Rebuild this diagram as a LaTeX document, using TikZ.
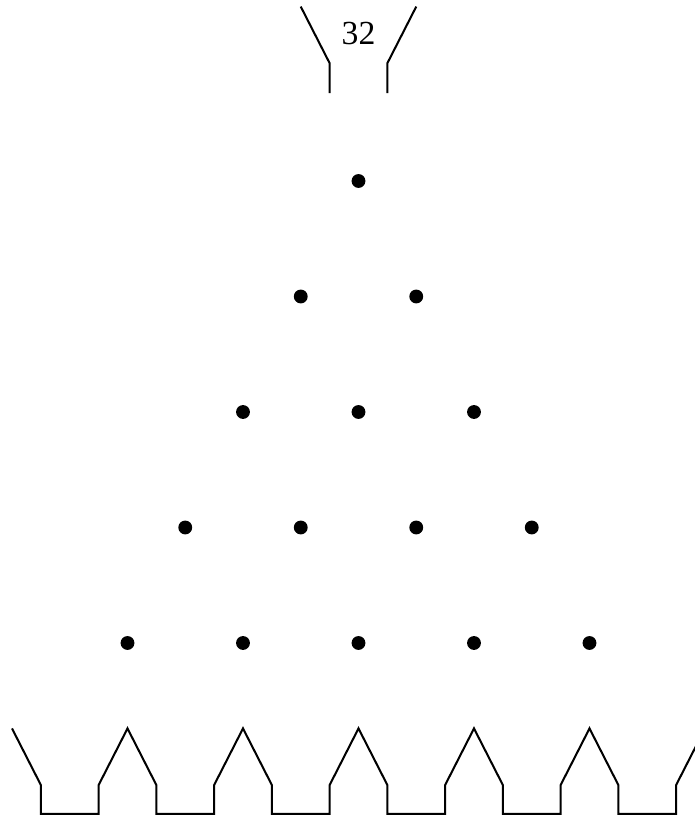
\documentclass[tikz,border=0pt]{standalone}
\usepackage{fontspec}
\setmainfont{Liberation Serif}
\usetikzlibrary{calc}
\definecolor{boardInk}{RGB}{0,0,0}

\begin{document}
\begin{tikzpicture}[x=1cm,y=1cm,line width=0.5pt,boardInk]
    \useasboundingbox (-3.104,-5.498) rectangle (2.905,1.567);
    % funnel
    \draw (-0.5,1.51) -- (-0.25,1.02) -- (-0.25,0.76);
    \draw (0.5,1.51) -- (0.25,1.02) -- (0.25,0.76);
    \node[font=\fontsize{8.3}{10}\selectfont] (count) at (0,1.28) {32};
    % pegs
    \foreach \r in {0,...,4}{
      \foreach \k in {0,...,\r}{
        \fill ({-\r/2+\k},-\r) circle (0.06);
      }
    }
    % bins
    \draw (-3,-4.74) -- (-2.75,-5.23) -- (-2.75,-5.48) -- (-2.25,-5.48) -- (-2.25,-5.23)
      \foreach \p in {-2,-1,0,1,2}{
        -- (\p,-4.74) -- ({\p+0.25},-5.23) -- ({\p+0.25},-5.48) -- ({\p+0.75},-5.48) -- ({\p+0.75},-5.23)
      } -- (3,-4.74);
  \end{tikzpicture}
\end{document}
